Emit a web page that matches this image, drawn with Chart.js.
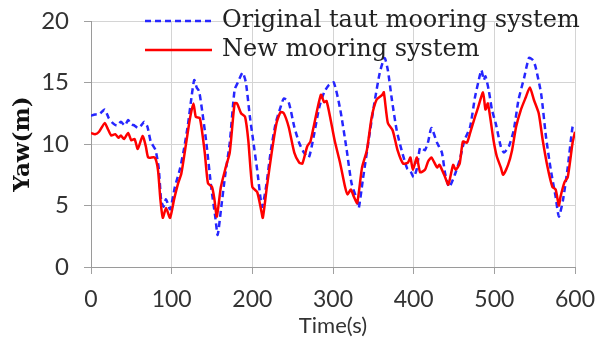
<!DOCTYPE html>
<html>
<head>
<meta charset="utf-8">
<script src="https://cdn.jsdelivr.net/npm/chart.js@4/dist/chart.umd.min.js"></script>
<style>
html,body{margin:0;padding:0;background:#fff;}
#wrap{width:605px;height:342px;}
</style>
</head>
<body>
<div id="wrap"><canvas id="c" width="605" height="342"></canvas></div>
<script>
// ---- data ----
const seriesNames = ["Original taut mooring system", "New mooring system"];

const originalTime = [0,5,10,17,22,27,32,37,42,46,50,54,58,62,66,70,74,80,84,87,90,93,98,104,110,115,120,125,128,131,134,138,143,149,154,157,161,166,172,178,182,188,192,197,201,206,212,217,223,229,235,239,245,252,258,264,270,276,283,289,295,301,309,317,323,330,332,337,346,352,358,364,368,373,379,385,392,396,400,404,408,414,418,422,429,435,439,444,451,457,463,470,476,480,484,487,489,493,497,502,508,512,518,524,530,537,543,548,551,558,564,570,576,580,585,591,597,600];
const originalYaw  = [12.3,12.4,12.4,12.8,12.1,11.7,11.5,11.8,11.5,11.95,11.6,11.5,11.3,11.5,11.8,11.4,10.2,9.5,8.0,5.4,4.9,5.5,4.7,6.5,7.9,9.5,11.5,14.0,15.2,14.6,14.3,12.6,10.1,6.5,4.1,2.6,4.6,7.3,10.1,14.4,15.0,15.8,15.0,12.2,10.3,7.9,4.9,6.5,9.5,11.7,13.0,13.7,13.4,11.4,10.1,9.3,8.9,10.6,13.0,14.2,14.8,15.0,12.8,9.5,6.8,5.4,4.8,7.1,11.1,13.6,15.8,17.0,16.0,13.6,11.1,9.5,8.0,7.8,7.3,8.0,9.7,9.5,10.2,11.3,10.1,9.3,7.6,6.5,7.5,8.7,10.3,11.4,13.8,15.0,16.0,15.2,15.5,14.4,12.8,11.6,9.8,9.3,9.8,11.1,13.6,15.4,17.0,16.8,16.3,14.1,10.6,7.9,5.7,4.1,5.4,8.1,11.4,11.7];

const newTime = [0,5,10,17,21,25,30,34,37,41,46,50,54,58,64,68,71,79,83,86,89,93,98,103,108,112,118,123,127,130,135,141,145,150,153,156,161,167,172,178,181,186,191,195,200,206,211,213,218,224,230,235,239,245,252,258,262,268,272,276,285,289,292,297,302,309,315,318,322,326,330,336,342,348,354,361,363,368,374,380,387,393,396,399,404,408,414,418,422,429,432,439,443,449,452,457,461,466,470,476,480,486,489,492,499,503,508,511,517,522,527,533,539,544,549,555,560,566,572,576,580,582,587,591,597,600];
const newYaw  = [10.9,10.8,11.0,11.7,11.2,10.7,10.8,10.5,10.7,10.4,10.9,10.3,10.4,9.6,10.65,9.8,8.9,8.9,7.9,5.5,4.0,4.8,4.0,5.5,6.8,7.6,10.1,12.2,13.3,12.2,12.1,9.3,6.8,6.5,5.5,4.1,6.5,8.1,9.3,13.3,13.3,12.5,12.2,10.3,6.5,6.1,4.6,4.0,6.5,9.3,11.7,12.6,12.5,11.4,9.3,8.5,8.4,9.8,10.2,11.4,14.0,13.4,13.5,12.0,10.3,8.4,6.5,5.9,6.3,5.7,5.2,8.1,9.5,12.2,13.6,14.0,14.2,11.7,11.1,9.5,8.4,8.5,8.9,7.9,8.9,7.7,7.9,8.6,8.9,8.1,8.3,7.3,6.7,8.3,7.9,8.4,10.2,10.1,10.9,12.2,13.0,14.2,12.8,13.3,10.3,9.0,8.1,7.5,8.3,9.5,11.4,12.8,13.8,14.6,13.6,12.5,10.3,8.1,6.5,6.3,5.0,5.7,6.9,7.3,10.1,11.0];

const xTicks = [0,100,200,300,400,500,600];
const yTicks = [0,5,10,15,20];
const xTitle = "Time(s)";
const yTitle = "Yaw(m)";

function toPoints(xs, ys){ return xs.map((x,i)=>({x:x, y:ys[i]})); }

const legendPlugin = {
  id: 'insideLegend',
  afterDatasetsDraw(chart){
    const ctx = chart.ctx;
    const ds = chart.data.datasets;
    const rows = [21, 50];
    ctx.save();
    ctx.font = '24px "DejaVu Serif"';
    ctx.textBaseline = 'middle';
    ctx.fillStyle = '#222';
    [0,1].forEach((di,k)=>{
      const d = ds[di];
      const y = rows[k];
      ctx.beginPath();
      ctx.strokeStyle = d.borderColor;
      ctx.lineWidth = d.borderWidth;
      ctx.setLineDash(d.borderDash || []);
      ctx.moveTo(145, y);
      ctx.lineTo(212, y);
      ctx.stroke();
      ctx.setLineDash([]);
      ctx.fillText(d.label, 222, y);
    });
    ctx.restore();
  }
};

new Chart(document.getElementById('c'), {
  type: 'line',
  data: {
    datasets: [
      {
        label: seriesNames[0],
        data: toPoints(originalTime, originalYaw),
        borderColor: '#2626ff',
        borderWidth: 2.5,
        borderDash: [6,4],
        pointRadius: 0,
        tension: 0.2,
        fill: false,
        order: 1
      },
      {
        label: seriesNames[1],
        data: toPoints(newTime, newYaw),
        borderColor: '#ff0000',
        borderWidth: 2.5,
        pointRadius: 0,
        tension: 0.2,
        fill: false,
        order: 0
      }
    ]
  },
  options: {
    responsive: false,
    animation: false,
    layout: { padding: { top: 21, right: 30, left: 0, bottom: 0 } },
    plugins: { legend: { display: false }, tooltip: { enabled: false } },
    scales: {
      x: {
        type: 'linear',
        min: 0, max: 600,
        afterBuildTicks(scale){ scale.ticks = xTicks.map(v=>({value:v})); },
        afterFit(scale){ scale.height = 75; scale.paddingLeft = 0; scale.paddingRight = 0; },
        grid: { color: '#d4d4d4', lineWidth: 1, tickLength: 7, tickColor: '#a0a0a0' },
        border: { color: '#9a9a9a', width: 1 },
        ticks: { color: '#333', font: { family: 'Lato', size: 23, lineHeight: 1 }, padding: 14, maxRotation: 0 },
        title: { display: true, text: xTitle, color: '#333', font: { family: 'Lato', size: 22 }, padding: { top: 0, bottom: 3 } }
      },
      y: {
        min: 0, max: 20,
        afterBuildTicks(scale){ scale.ticks = yTicks.map(v=>({value:v})); },
        afterFit(scale){ scale.width = 91; scale.paddingTop = 0; scale.paddingBottom = 0; },
        grid: { color: '#d4d4d4', lineWidth: 1, tickLength: 7, tickColor: '#a0a0a0' },
        border: { color: '#9a9a9a', width: 1 },
        ticks: { color: '#333', font: { family: 'Lato', size: 24, lineHeight: 1 }, padding: 15 },
        title: { display: true, text: yTitle, color: '#111', font: { family: 'DejaVu Serif', size: 23, weight: 'bold' }, padding: { top: 9, bottom: 0 } }
      }
    }
  },
  plugins: [legendPlugin]
});
</script>
</body>
</html>
